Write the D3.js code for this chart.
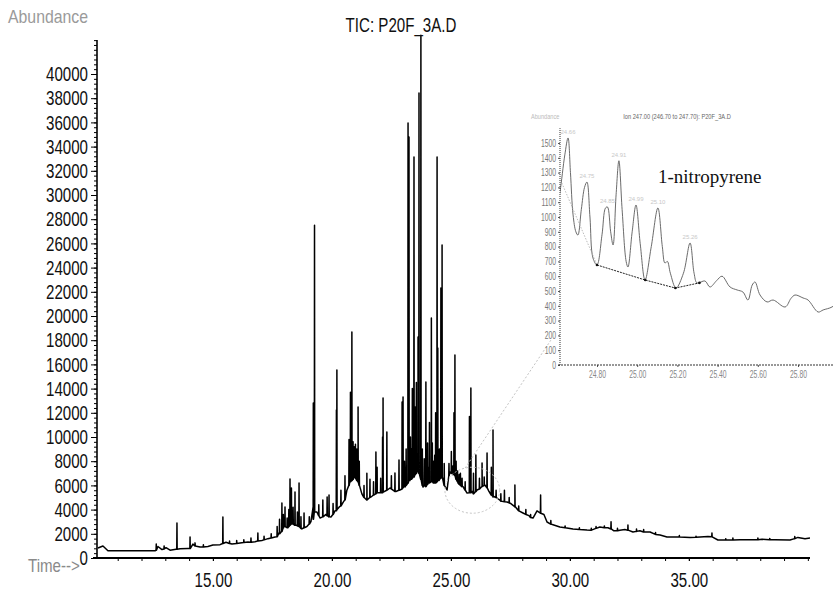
<!DOCTYPE html>
<html>
<head>
<meta charset="utf-8">
<script src="https://cdn.jsdelivr.net/npm/d3@7/dist/d3.min.js"></script>
<style>
body { margin: 0; background: #fff; }
svg { display: block; }
</style>
</head>
<body>
<div id="chart"></div>
<script>

// total ion chromatogram, [time, abundance] of the baseline
var baseline = [
    [10.17, 830], [10.38, 990], [10.59, 600], [12.57, 600], [12.69, 950], [12.86, 700],
    [13.03, 850], [13.20, 650], [13.45, 720], [13.62, 760], [13.95, 780], [14.16, 1150],
    [14.46, 910], [14.79, 950], [15.00, 1075], [15.30, 1100], [15.55, 1300], [15.80, 1150],
    [16.14, 1240], [16.47, 1320], [16.77, 1350], [17.06, 1450], [17.31, 1600], [17.61, 1735],
    [17.78, 2100], [17.99, 2700], [18.15, 2500], [18.32, 2900], [18.53, 2700], [18.74, 2400],
    [18.95, 2600], [19.12, 3000], [19.21, 4200], [19.37, 3800], [19.50, 3300], [19.75, 3600],
    [19.96, 3390], [20.13, 3900], [20.30, 4200], [20.47, 4600], [20.63, 5600], [20.76, 6400],
    [20.93, 6800], [21.10, 6300], [21.26, 5300], [21.47, 4800], [21.68, 5100], [21.89, 5370],
    [22.15, 5450], [22.44, 5785], [22.69, 5500], [22.86, 5620], [23.07, 5870], [23.28, 6400],
    [23.41, 6700], [23.62, 7300], [23.83, 5870], [24.08, 6300], [24.33, 6200], [24.63, 6690],
    [24.84, 5620], [24.96, 7100], [25.05, 7020], [25.30, 6200], [25.51, 5900], [25.68, 5370],
    [25.89, 5500], [26.10, 5620], [26.31, 5900], [26.43, 6030], [26.60, 5500], [26.77, 5040],
    [27.06, 4790], [27.36, 4630], [27.52, 4500], [27.69, 4210], [28.03, 3720], [28.28, 3500],
    [28.45, 3300], [28.62, 3900], [28.91, 3600], [29.04, 2975], [29.29, 2750], [29.58, 2560],
    [30.13, 2400], [30.72, 2310], [31.26, 2560], [31.60, 2500], [31.85, 2250], [32.10, 2300],
    [32.31, 2350], [32.65, 2150], [32.94, 2250], [33.37, 2150], [33.79, 1900], [34.08, 1735],
    [35.05, 1700], [35.80, 1780], [36.22, 1490], [36.72, 1490], [37.15, 1500], [37.65, 1500],
    [38.07, 1550], [38.62, 1500], [39.25, 1490], [39.58, 1700], [39.88, 1600], [40.09, 1650]
];

// peaks: [time, top, foot]
var peaks = [
    [12.62, 1150, 650], [12.95, 1000, 750], [13.49, 2890, 720], [14.04, 1735, 780],
    [14.25, 1250, 1000], [14.60, 1100, 900], [15.42, 3390, 1200], [15.70, 1400, 1200],
    [16.00, 1450, 1200], [16.30, 1500, 1280], [16.60, 1650, 1300], [16.89, 2070, 1400],
    [17.15, 1800, 1500], [17.45, 2000, 1650], [17.70, 2600, 1750], [17.80, 3200, 2000],
    [17.90, 4545, 2200], [17.96, 3600, 2500], [18.03, 4210, 2600], [18.12, 3300, 2500],
    [18.19, 4000, 2600], [18.24, 6530, 2700], [18.30, 5785, 2800], [18.37, 4200, 2800],
    [18.45, 5450, 2700], [18.55, 3800, 2650], [18.62, 6200, 2600], [18.70, 3400, 2450],
    [18.83, 3720, 2500], [19.05, 3400, 2800],
    [19.22, 12800, 3200], [19.27, 27500, 3800], [19.45, 4400, 3500], [19.62, 4790, 3400],
    [19.80, 5040, 3500], [19.88, 5200, 3400], [20.05, 4500, 3600], [20.19, 12230, 3900],
    [20.21, 15540, 4000], [20.38, 5600, 4300], [20.55, 6800, 4800], [20.72, 9800, 6000],
    [20.78, 13700, 6300], [20.84, 18680, 6400], [20.89, 9600, 6500], [20.94, 9200, 6700],
    [20.99, 9400, 6600], [21.05, 9000, 6400], [21.10, 12480, 6300], [21.15, 8000, 6000],
    [21.35, 6000, 5000], [21.47, 7000, 4800], [21.60, 6500, 5000], [21.75, 6300, 5200],
    [21.85, 8760, 5300], [21.90, 7500, 5400], [22.05, 6600, 5400],
    [22.13, 10000, 5400], [22.15, 13220, 5450], [22.31, 10410, 5600], [22.50, 6800, 5700],
    [22.65, 7020, 5500], [22.82, 8100, 5600], [22.95, 12890, 5700], [22.99, 13300, 5800],
    [23.05, 8000, 6000], [23.12, 9000, 6000], [23.20, 35950, 6200], [23.24, 34790, 6400],
    [23.30, 10000, 6500], [23.34, 9000, 6500], [23.38, 14000, 6600], [23.45, 33140, 6700],
    [23.50, 12480, 6900], [23.55, 14500, 7000], [23.62, 18260, 7300], [23.66, 38430, 7000],
    [23.74, 43200, 6500], [23.80, 9000, 6000], [23.88, 8200, 6000], [23.95, 14540, 5900],
    [24.02, 9500, 6100], [24.05, 7500, 6200], [24.10, 11200, 6200], [24.18, 19830, 6300],
    [24.22, 9500, 6300], [24.27, 8000, 6200], [24.32, 8500, 6200], [24.36, 12000, 6200],
    [24.42, 33140, 6300], [24.45, 17350, 6400], [24.50, 8000, 6400], [24.52, 9000, 6500],
    [24.58, 22310, 6600], [24.63, 25870, 6700], [24.72, 7800, 6000], [24.92, 7800, 6800],
    [25.02, 8800, 7000], [25.08, 7600, 6900], [25.13, 12000, 6900], [25.17, 16780, 6800],
    [25.22, 8000, 6500], [25.28, 7200, 6300], [25.35, 6900, 6100], [25.40, 7000, 6000],
    [25.47, 6600, 5900], [25.60, 6300, 5600], [25.78, 11700, 5400], [25.84, 14050, 5400],
    [25.95, 7000, 5300], [26.05, 8510, 5500], [26.20, 6600, 5700], [26.31, 7850, 5900],
    [26.40, 6700, 6000], [26.52, 8680, 5800], [26.70, 7500, 5200], [26.77, 10580, 5100],
    [26.90, 5600, 5000], [27.10, 5300, 4700], [27.25, 5600, 4650], [27.45, 5000, 4550],
    [27.69, 6030, 4250], [27.85, 4300, 3900], [28.15, 4000, 3600], [28.35, 3600, 3350],
    [28.77, 5200, 3700], [29.20, 3100, 2800], [29.80, 2650, 2500], [30.40, 2500, 2350],
    [30.90, 2450, 2300], [31.10, 2600, 2450], [31.45, 2650, 2500], [31.73, 3000, 2400],
    [32.00, 2450, 2250], [32.44, 2730, 2300], [32.80, 2400, 2200], [33.10, 2350, 2150],
    [33.60, 2100, 1950], [34.60, 1850, 1730], [35.30, 1800, 1720], [35.97, 2070, 1750],
    [36.55, 1600, 1490], [36.85, 1650, 1490], [37.90, 1650, 1500], [38.40, 1620, 1510],
    [39.45, 1780, 1600]
];

var xTicks = [15, 20, 25, 30, 35];
var yTicks = [0, 2000, 4000, 6000, 8000, 10000, 12000, 14000, 16000, 18000, 20000,
    22000, 24000, 26000, 28000, 30000, 32000, 34000, 36000, 38000, 40000];

// dashed circle round 25-26 min and the line going to the inset, [time, abundance]
var zoomCircle = [25.9, 5600, 1.15, 1900];
var zoomLine = [[25.6, 7440], [29.2, 18000]];

// inset: ion 247 trace
var insetTrace = [
    [24.600, 1050], [24.616, 1170], [24.640, 1420], [24.656, 1534], [24.668, 1300],
    [24.681, 1014], [24.695, 900], [24.705, 878], [24.722, 1050], [24.738, 1200],
    [24.750, 1236], [24.765, 1000], [24.780, 723], [24.800, 676], [24.825, 880],
    [24.842, 1060], [24.852, 1068], [24.868, 900], [24.880, 811], [24.895, 1150],
    [24.909, 1380], [24.925, 1050], [24.945, 700], [24.954, 662], [24.975, 900],
    [24.994, 1081], [25.015, 820], [25.039, 574], [25.070, 800], [25.103, 1061],
    [25.125, 800], [25.138, 689], [25.150, 700], [25.165, 620], [25.193, 520],
    [25.230, 620], [25.263, 824], [25.283, 620], [25.298, 554], [25.337, 568],
    [25.362, 527], [25.395, 570], [25.422, 600], [25.462, 527], [25.497, 507],
    [25.526, 493], [25.551, 439], [25.572, 540], [25.586, 561], [25.611, 473],
    [25.646, 426], [25.676, 439], [25.736, 392], [25.765, 450], [25.785, 473],
    [25.825, 453], [25.850, 439], [25.900, 358], [25.925, 372], [25.969, 392],
    [26.010, 440]
];
var insetBaseline = [[24.625, 1230], [24.80, 676], [25.04, 574], [25.19, 520], [25.31, 555]];
var insetPeaks = [
    [24.656, 1534, "24.66"], [24.750, 1236, "24.75"], [24.852, 1068, "24.85"],
    [24.909, 1380, "24.91"], [24.994, 1081, "24.99"], [25.103, 1061, "25.10"],
    [25.263, 824, "25.26"]
];
var insetXTicks = [24.8, 25.0, 25.2, 25.4, 25.6, 25.8];
var insetYTicks = [0, 100, 200, 300, 400, 500, 600, 700, 800, 900, 1000, 1100, 1200,
    1300, 1400, 1500];


var width = 833;
var height = 594;
var svg = d3.select("#chart")
    .append("svg")
    .attr("width", width)
    .attr("height", height);

var font = "'Liberation Sans', Arial, sans-serif";

function label(x, y, str, size, sx, fill, anchor, family) {
    return svg.append("g")
        .attr("transform", "translate(" + x + "," + y + ")")
        .append("text")
        .attr("transform", "scale(" + sx + ",1)")
        .attr("font-family", family || font)
        .attr("font-size", size)
        .attr("fill", fill)
        .attr("text-anchor", anchor)
        .text(str);
}

var x = d3.scaleLinear().domain([10.13, 40.09]).range([97, 810]);
var y = d3.scaleLinear().domain([0, 40000]).range([558, 74]);


// main trace
var trace = baseline.map(function(d) { return [d[0], d[1]]; });
peaks.forEach(function(p) {
    trace.push([p[0] - 0.008, p[2]]);
    trace.push([p[0], p[1]]);
    trace.push([p[0] + 0.008, p[2]]);
});
trace.sort(function(a, b) { return a[0] - b[0]; });

var line = d3.line()
    .x(function(d) { return x(d[0]); })
    .y(function(d) { return y(d[1]); });

svg.append("path")
    .datum(trace)
    .attr("d", line)
    .attr("fill", "none")
    .attr("stroke", "#000")
    .attr("stroke-width", 1.5)
    .attr("stroke-linejoin", "round");


// y axis
var yMinor = svg.append("g")
    .attr("transform", "translate(97,0)")
    .call(d3.axisLeft(y).tickValues(d3.range(0, 42801, 400)).tickSize(3).tickFormat(""));
yMinor.select(".domain").remove();

var yAxis = svg.append("g")
    .attr("transform", "translate(97,0)")
    .call(d3.axisLeft(y).tickValues(yTicks).tickSize(6).tickFormat(d3.format("d")));
yAxis.select(".domain").remove();
yAxis.selectAll("text")
    .attr("font-family", font)
    .attr("font-size", 21)
    .attr("fill", "#111")
    .attr("transform", "scale(0.72,1)")
    .attr("x", -9 / 0.72);

svg.append("line")
    .attr("x1", 97).attr("x2", 97)
    .attr("y1", y(0)).attr("y2", y(42800))
    .attr("stroke", "#000")
    .attr("stroke-width", 1.6);

// x axis
var xMinor = svg.append("g")
    .attr("transform", "translate(0," + y(0) + ")")
    .call(d3.axisBottom(x).tickValues(d3.range(11, 41, 1)).tickSize(3).tickFormat(""));
xMinor.select(".domain").remove();

var xAxis = svg.append("g")
    .attr("transform", "translate(0," + y(0) + ")")
    .call(d3.axisBottom(x).tickValues(xTicks).tickSize(3).tickFormat(d3.format(".2f")));
xAxis.select(".domain").remove();
xAxis.selectAll("text")
    .attr("font-family", font)
    .attr("font-size", 21)
    .attr("fill", "#111")
    .attr("transform", "scale(0.72,1)")
    .attr("y", 14);

svg.append("line")
    .attr("x1", 93).attr("x2", x(40.09))
    .attr("y1", y(0)).attr("y2", y(0))
    .attr("stroke", "#000")
    .attr("stroke-width", 1.8);

svg.selectAll(".tick line").attr("stroke", "#000");

// texts
label(401, 32, "TIC: P20F_3A.D", 21, 0.72, "#111", "middle");
label(8, 23, "Abundance", 18, 0.88, "#9a9a9a", "start");
label(28, 572, "Time-->", 18, 0.84, "#8a8a8a", "start");


// dashed circle and line to the inset
svg.append("ellipse")
    .attr("cx", x(zoomCircle[0]))
    .attr("cy", y(zoomCircle[1]))
    .attr("rx", x(zoomCircle[0] + zoomCircle[2]) - x(zoomCircle[0]))
    .attr("ry", y(0) - y(zoomCircle[3]))
    .attr("fill", "none")
    .attr("stroke", "#c4c4c4")
    .attr("stroke-width", 1)
    .attr("stroke-dasharray", "2,2");

svg.append("path")
    .datum(zoomLine)
    .attr("d", line)
    .attr("fill", "none")
    .attr("stroke", "#c4c4c4")
    .attr("stroke-width", 1)
    .attr("stroke-dasharray", "2,2");


// inset
var ix = d3.scaleLinear().domain([24.616, 25.974]).range([560, 833]);
var iy = d3.scaleLinear().domain([0, 1500]).range([365, 143]);

svg.append("clipPath")
    .attr("id", "insetClip")
    .append("rect")
    .attr("x", 560).attr("y", 100)
    .attr("width", 273).attr("height", 270);

var iline = d3.line()
    .x(function(d) { return ix(d[0]); })
    .y(function(d) { return iy(d[1]); });

svg.append("path")
    .datum(insetTrace)
    .attr("clip-path", "url(#insetClip)")
    .attr("d", iline.curve(d3.curveCatmullRom))
    .attr("fill", "none")
    .attr("stroke", "#5a5a5a")
    .attr("stroke-width", 0.9);

var ibase = d3.line()
    .x(function(d) { return ix(d[0]); })
    .y(function(d) { return iy(d[1]); });

svg.append("path")
    .datum(insetBaseline.slice(0, 2))
    .attr("d", ibase)
    .attr("fill", "none")
    .attr("stroke", "#aaa")
    .attr("stroke-width", 0.8)
    .attr("stroke-dasharray", "1.5,1.5");

svg.append("path")
    .datum(insetBaseline.slice(1))
    .attr("d", ibase)
    .attr("fill", "none")
    .attr("stroke", "#222")
    .attr("stroke-width", 1)
    .attr("stroke-dasharray", "2,1");

svg.selectAll(".ibdot")
    .data(insetBaseline.slice(1))
    .enter()
    .append("circle")
    .attr("class", "ibdot")
    .attr("cx", function(d) { return ix(d[0]); })
    .attr("cy", function(d) { return iy(d[1]); })
    .attr("r", 1.3)
    .attr("fill", "#111");

svg.selectAll(".ipk")
    .data(insetPeaks)
    .enter()
    .append("text")
    .attr("class", "ipk")
    .attr("x", function(d) { return ix(d[0]); })
    .attr("y", function(d) { return iy(d[1]) - 4; })
    .attr("font-family", font)
    .attr("font-size", 6)
    .attr("fill", "#c8c8c8")
    .attr("text-anchor", "middle")
    .text(function(d) { return d[2]; });

var iyAxis = svg.append("g")
    .attr("transform", "translate(560,0)")
    .call(d3.axisLeft(iy).tickValues(insetYTicks).tickSize(2).tickPadding(2)
        .tickFormat(d3.format("d")));
iyAxis.select(".domain").remove();
iyAxis.selectAll("text")
    .attr("font-family", font)
    .attr("font-size", 10)
    .attr("fill", "#777")
    .attr("transform", "scale(0.68,1)")
    .attr("x", -4 / 0.68);

var ixAxis = svg.append("g")
    .attr("transform", "translate(0," + iy(0) + ")")
    .call(d3.axisBottom(ix).tickValues(insetXTicks).tickSize(2).tickFormat(d3.format(".2f")));
ixAxis.select(".domain").remove();
ixAxis.selectAll("text")
    .attr("font-family", font)
    .attr("font-size", 10)
    .attr("fill", "#888")
    .attr("transform", "scale(0.68,1)")
    .attr("y", 6);
iyAxis.selectAll(".tick line").attr("stroke", "#555");
ixAxis.selectAll(".tick line").attr("stroke", "#555");

svg.append("line")
    .attr("x1", 560).attr("x2", 560)
    .attr("y1", iy(0)).attr("y2", iy(1600))
    .attr("stroke", "#333")
    .attr("stroke-width", 1)
    .attr("stroke-dasharray", "1,1");

svg.append("line")
    .attr("x1", 558).attr("x2", 833)
    .attr("y1", iy(0)).attr("y2", iy(0))
    .attr("stroke", "#333")
    .attr("stroke-width", 1.2)
    .attr("stroke-dasharray", "2,1");

label(677, 119, "Ion 247.00 (246.70 to 247.70): P20F_3A.D", 7.5, 0.76, "#666", "middle");
label(531, 119, "Abundance", 7, 0.8, "#bbb", "start");
label(658, 183, "1-nitropyrene", 19, 1, "#111", "start", "'Liberation Serif', 'Times New Roman', serif");

</script>
</body>
</html>
